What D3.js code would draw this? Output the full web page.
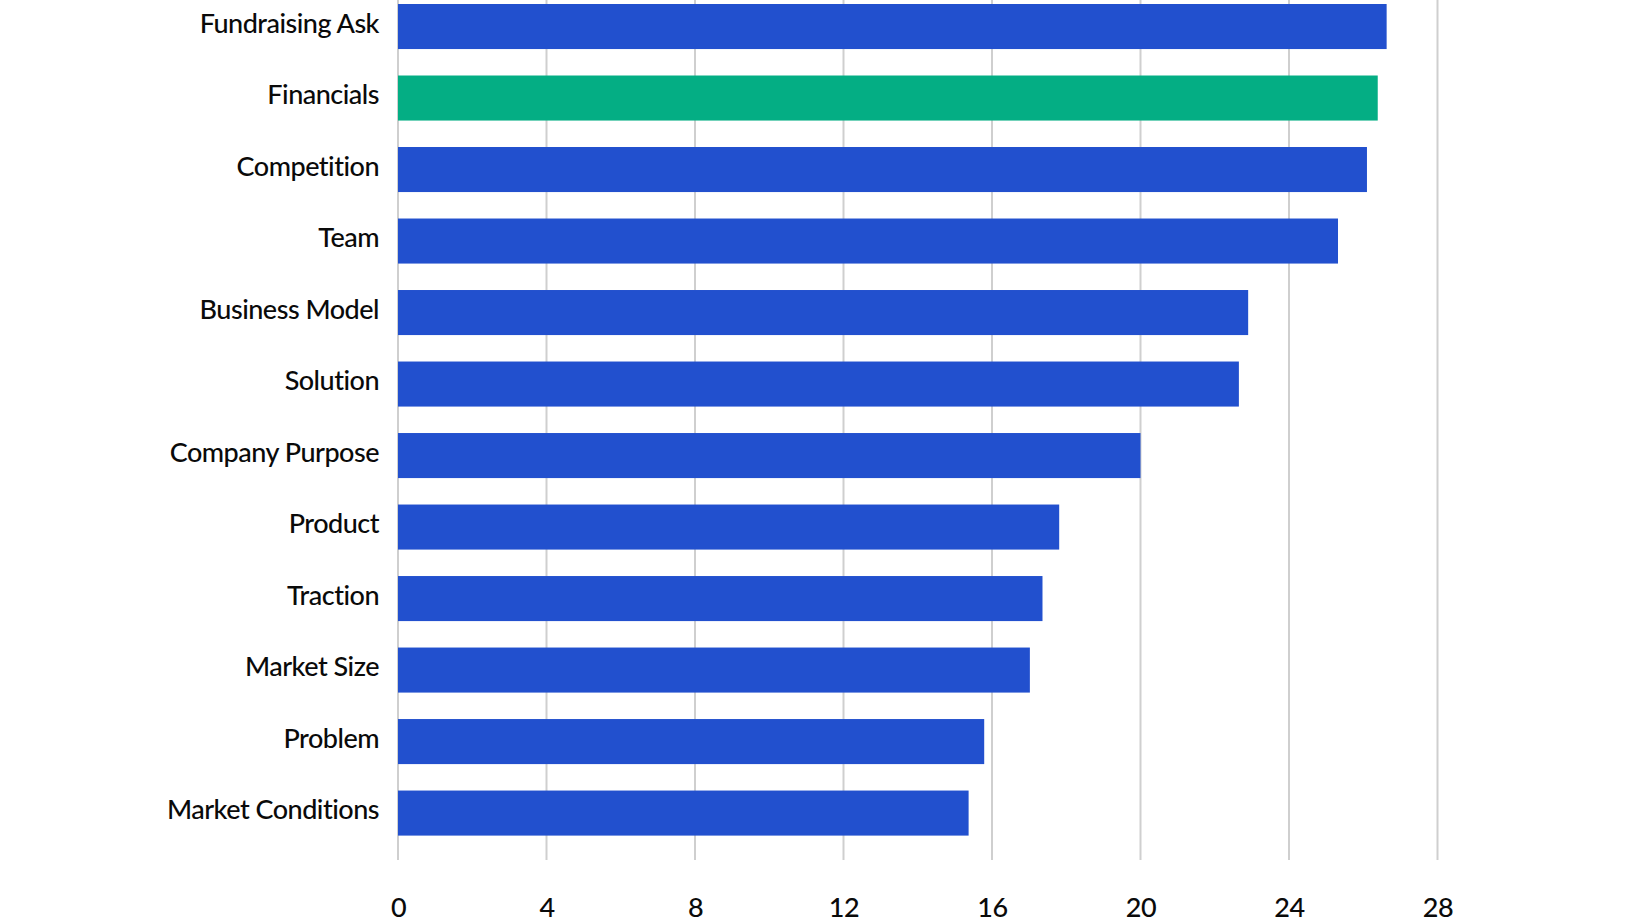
<!DOCTYPE html>
<html lang="en">
<head>
    <meta charset="UTF-8">
    <title>Pitch deck sections</title>
    <script src="https://d3js.org/d3.v7.min.js"></script>
    <style>
        body { margin: 0; background: #fff; }
        svg { display: block; }
        .label { font-family: Lato, "Open Sans", sans-serif; font-size: 27px; font-weight: 500; fill: #0a0a0a; letter-spacing: -0.5px; }
        .grid line { stroke: #cfcfcf; stroke-width: 2; }
    </style>
</head>
<body>
    <svg id="chart"></svg>

    <script>
        const categories = ["Fundraising Ask", "Financials", "Competition", "Team", "Business Model", "Solution",
            "Company Purpose", "Product", "Traction", "Market Size", "Problem", "Market Conditions"];
        const values = [26.63, 26.39, 26.1, 25.32, 22.9, 22.65, 20.0, 17.81, 17.36, 17.02, 15.79, 15.37];
        const highlight = "Financials";
        const xTicks = [0, 4, 8, 12, 16, 20, 24, 28];

        const width = 1640, height = 924;
        const svg = d3.select("#chart").attr("width", width).attr("height", height);

        const x = d3.scaleLinear().domain([0, 28]).range([398, 1437.5]);
        const y = d3.scaleBand().domain(categories).range([0, 839.6])
            .paddingInner(0.37).paddingOuter(0.056);

        // vertical grid lines
        svg.append("g").attr("class", "grid")
            .selectAll("line")
            .data(xTicks)
            .enter().append("line")
            .attr("x1", d => x(d)).attr("x2", d => x(d))
            .attr("y1", 0).attr("y2", 860);

        svg.selectAll("rect.bar")
            .data(categories)
            .enter().append("rect")
            .attr("class", "bar")
            .attr("x", x(0))
            .attr("y", d => y(d))
            .attr("width", (d, i) => x(values[i]) - x(0))
            .attr("height", y.bandwidth())
            .attr("fill", d => d === highlight ? "#04ae84" : "#2250ce");

        // category labels
        svg.selectAll("text.cat")
            .data(categories)
            .enter().append("text")
            .attr("class", "label cat")
            .attr("x", 379)
            .attr("y", d => y(d) + y.bandwidth() / 2 + 6)
            .attr("text-anchor", "end")
            .text(d => d);

        // x axis labels
        const xAxis = d3.axisBottom(x).tickValues(xTicks).tickSize(0).tickPadding(0);
        const ax = svg.append("g").attr("transform", "translate(0,898)").call(xAxis);
        ax.select(".domain").remove();
        ax.selectAll("text")
            .attr("class", "label")
            .attr("dy", "0.72em")
            .attr("fill", null);
    </script>
</body>
</html>
